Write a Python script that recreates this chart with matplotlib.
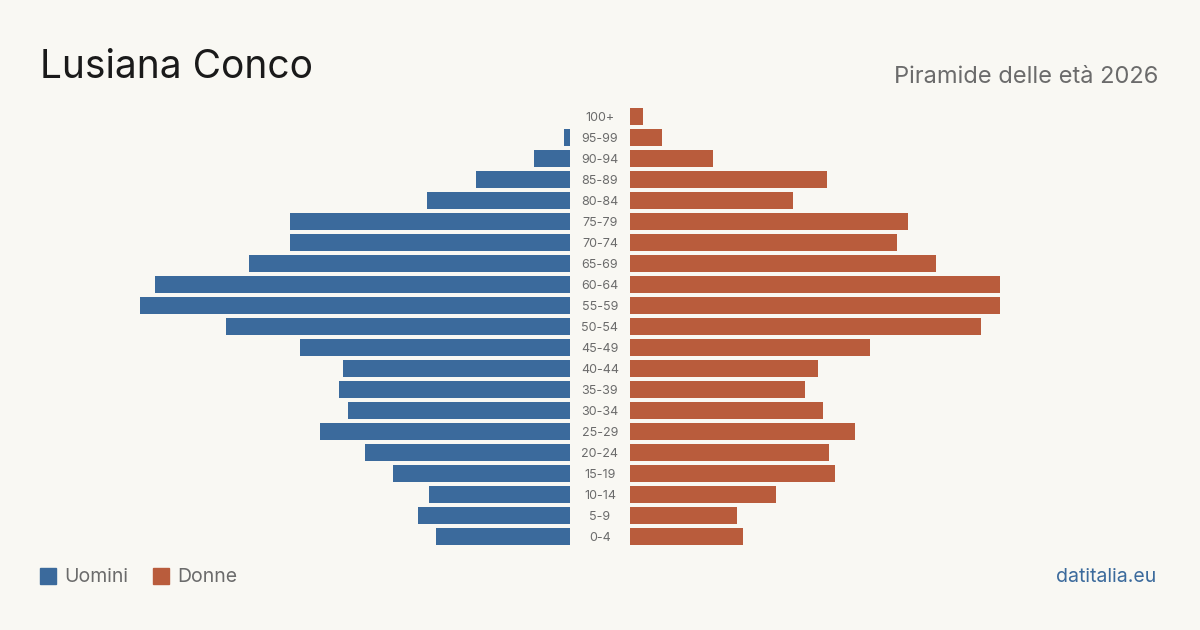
import matplotlib.pyplot as plt
from matplotlib.patches import Rectangle

# age classes from youngest to oldest
age_groups = ['0-4', '5-9', '10-14', '15-19', '20-24', '25-29', '30-34',
              '35-39', '40-44', '45-49', '50-54', '55-59', '60-64', '65-69',
              '70-74', '75-79', '80-84', '85-89', '90-94', '95-99', '100+']
men = [20, 22.6, 21, 26.3, 30.5, 37.2, 33, 34.4, 33.8, 40.2, 51.2, 64, 61.8, 47.8, 41.7, 41.7, 21.3, 14, 5.4, 0.9, 0]
women = [16.8, 15.9, 21.7, 30.5, 29.6, 33.5, 28.7, 26, 28, 35.7, 52.2, 55, 55, 45.5, 39.7, 41.4, 24.3, 29.3, 12.4, 4.8, 1.9]

title = 'Lusiana Conco'
subtitle = 'Piramide delle età 2026'
legend_labels = ['Uomini', 'Donne']
source = 'datitalia.eu'

BG = '#f9f8f3'
BLUE = '#3b6a9c'
ORANGE = '#b95c3c'
GREY = '#6b6b6b'

plt.rcParams['font.family'] = ['Inter', 'DejaVu Sans']

W, H = 1200, 630
fig = plt.figure(figsize=(12, 6.3), dpi=100, facecolor=BG)

px_per_unit = 6.72
ax_w = 470
y_top, y_bot = 106, 547
xmax = ax_w / px_per_unit

ax_m = fig.add_axes([(570 - ax_w) / W, (H - y_bot) / H, ax_w / W, (y_bot - y_top) / H])
ax_f = fig.add_axes([630 / W, (H - y_bot) / H, ax_w / W, (y_bot - y_top) / H])

ypos = list(range(len(age_groups)))
ax_m.barh(ypos, men, height=0.81, color=BLUE)
ax_f.barh(ypos, women, height=0.81, color=ORANGE)

ax_m.set_xlim(xmax, 0)
ax_f.set_xlim(0, xmax)
for ax in (ax_m, ax_f):
    ax.set_ylim(-0.5, len(age_groups) - 0.5)
    ax.axis('off')
    ax.set_facecolor('none')

# age labels in the gap between the two halves
for y, lab in zip(ypos, age_groups):
    ax_f.annotate(lab, xy=(0, y), xycoords='data', xytext=(-30, -1.5),
                  textcoords='offset pixels', ha='center', va='center',
                  fontsize=9, color=GREY)

fig.text(40 / W, 1 - 67 / H, title, fontsize=28, color='#1a1a1a', va='center', ha='left')
fig.text(1158 / W, 1 - 77 / H, subtitle, fontsize=17, color=GREY, va='center', ha='right')

# legend
for x0, lab, col in [(40, legend_labels[0], BLUE), (153, legend_labels[1], ORANGE)]:
    fig.patches.append(Rectangle((x0 / W, 1 - 584 / H), 16 / W, 16 / H,
                                 transform=fig.transFigure, color=col))
    fig.text((x0 + 24) / W, 1 - 577 / H, lab, fontsize=14, color=GREY, va='center', ha='left')

fig.text(1156 / W, 1 - 577 / H, source, fontsize=14, color=BLUE, va='center', ha='right')

fig.savefig('out.png', dpi=100, facecolor=BG)
